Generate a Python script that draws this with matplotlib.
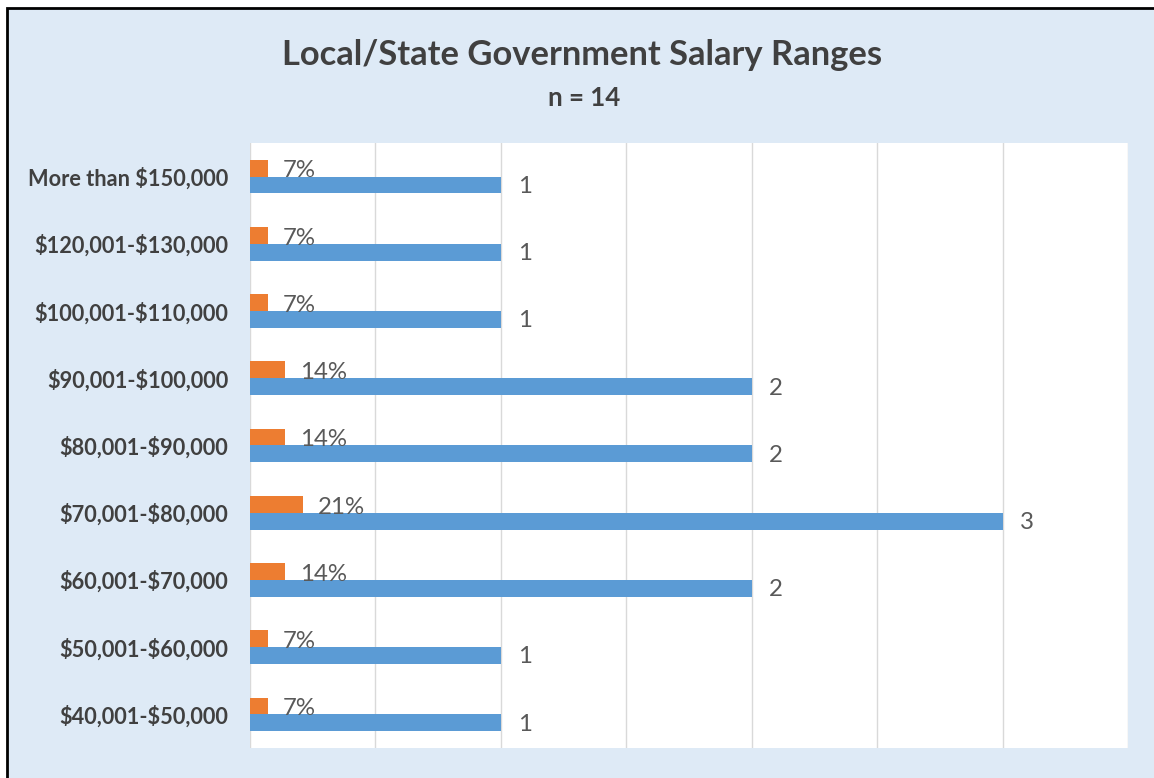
import matplotlib
matplotlib.use("Agg")
import matplotlib.pyplot as plt
from matplotlib.patches import Rectangle
import numpy as np

plt.rcParams["text.parse_math"] = False

# ---- data ----
categories = ["More than $150,000", "$120,001-$130,000", "$100,001-$110,000",
              "$90,001-$100,000", "$80,001-$90,000", "$70,001-$80,000",
              "$60,001-$70,000", "$50,001-$60,000", "$40,001-$50,000"]
counts = [1, 1, 1, 2, 2, 3, 2, 1, 1]
percents = [7, 7, 7, 14, 14, 21, 14, 7, 7]
title = "Local/State Government Salary Ranges"
subtitle = "n = 14"

# ---- style ----
W, H, DPI = 1154, 778, 100
BG = "#DEEAF6"
BLUE = "#5B9BD5"
ORANGE = "#ED7D31"
TXT = "#404040"
LBL = "#595959"
FONT = ["Lato", "DejaVu Sans"]

fig = plt.figure(figsize=(W / DPI, H / DPI), dpi=DPI)
fig.patch.set_facecolor("white")
border = Rectangle((6.5 / W, -0.05), 1.2, (H - 8) / H + 0.05,
                   transform=fig.transFigure, facecolor=BG,
                   edgecolor="black", linewidth=2, zorder=-10)
fig.add_artist(border)

renderer = fig.canvas.get_renderer()


def fit_size(text, target_px, weight="normal", base=20):
    t = fig.text(0, 0, text, fontsize=base, family=FONT, weight=weight)
    w = t.get_window_extent(renderer).width
    t.remove()
    return base * target_px / w


ax = fig.add_axes([250 / W, 1 - 748 / H, (1128 - 250) / W, (748 - 143) / H])
ax.set_zorder(1)
ax.set_facecolor("white")

y = np.arange(len(categories))
bh = 0.25
ax.barh(y - bh / 2, [p / 100 for p in percents], height=bh, color=ORANGE, zorder=3)
ax.barh(y + bh / 2, counts, height=bh, color=BLUE, zorder=3)

ax.set_xlim(0, 3.5)
ax.set_ylim(len(categories) - 0.5, -0.5)
ax.set_xticks(np.arange(0, 3.51, 0.5))
ax.set_xticklabels([])
ax.tick_params(axis="x", length=0)
ax.tick_params(axis="y", length=0, pad=15.5)
ax.grid(axis="x", color="#D9D9D9", linewidth=1, zorder=0)
ax.set_axisbelow(True)
for s in ax.spines.values():
    s.set_visible(False)

tick_fs = fit_size("More than $150,000", 201, weight="bold")
ax.set_yticks(y)
ax.set_yticklabels(categories, fontsize=tick_fs, fontweight="bold",
                   color=TXT, family=FONT)

lab_fs = fit_size("21%", 42) * 1.12
px = 3.5 / (1128 - 250)  # data units per pixel
for i, (c, p) in enumerate(zip(counts, percents)):
    ax.text(p / 100 + 15 * px, i - bh / 2 + 0.04, f"{p}%", va="center", ha="left",
            fontsize=lab_fs, color=LBL, family=FONT, zorder=4)
    ax.text(c + 17 * px, i + bh / 2 + 0.02, f"{c}", va="center", ha="left",
            fontsize=lab_fs, color=LBL, family=FONT, zorder=4)

title_fs = fit_size(title, 599, weight="bold")
fig.text(582.5 / W, 1 - 55 / H, title, ha="center", va="center",
         fontsize=title_fs, fontweight="bold", color=TXT, family=FONT)
sub_fs = fit_size(subtitle, 72, weight="bold")
fig.text(584 / W, 1 - 98 / H, subtitle, ha="center", va="center",
         fontsize=sub_fs, fontweight="bold", color=TXT, family=FONT)

fig.savefig("out.png", dpi=DPI, facecolor=fig.get_facecolor())
